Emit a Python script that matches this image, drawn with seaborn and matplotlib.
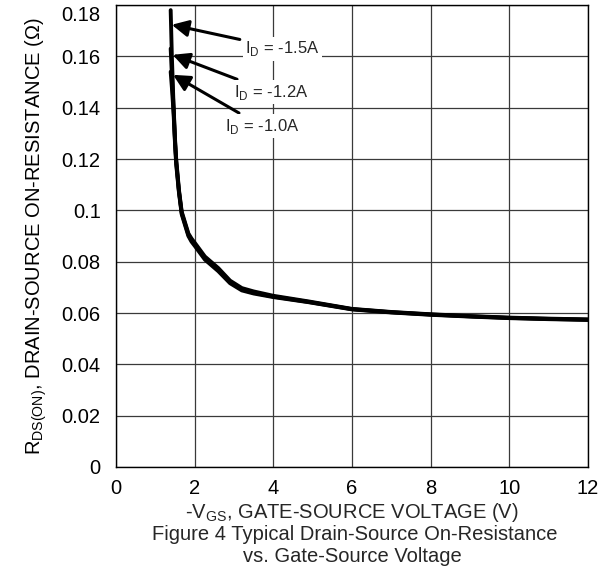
import matplotlib
matplotlib.use("Agg")
import matplotlib.pyplot as plt
import matplotlib.transforms as mtransforms
import seaborn as sns
import pandas as pd

# ---- data ----
vgs = [1.39, 1.42, 1.46, 1.50, 1.53, 1.60, 1.67, 1.76, 1.84, 1.92, 2.01, 2.26, 2.60,
       2.90, 3.20, 3.50, 4.00, 4.90, 6.00, 7.00, 8.00, 9.00, 10.0, 11.0, 12.0]
rds_15 = [0.178, 0.160, 0.142, 0.128, 0.120, 0.108, 0.0995, 0.0950, 0.0910, 0.0890, 0.0872,
          0.0820, 0.0775, 0.0726, 0.0697, 0.0684, 0.0667, 0.0645, 0.0616, 0.0604, 0.0595,
          0.0588, 0.0582, 0.0578, 0.0575]
rds_12 = [0.163, 0.153, 0.141, 0.127, 0.119, 0.1075, 0.0990, 0.0945, 0.0905, 0.0884, 0.0866,
          0.0814, 0.0769, 0.0721, 0.0692, 0.0679, 0.0664, 0.0643, 0.0615, 0.0603, 0.0594,
          0.0587, 0.0581, 0.0577, 0.0574]
rds_10 = [0.154, 0.148, 0.139, 0.126, 0.118, 0.1070, 0.0985, 0.0940, 0.0900, 0.0878, 0.0860,
          0.0808, 0.0763, 0.0716, 0.0688, 0.0676, 0.0662, 0.0642, 0.0614, 0.0602, 0.0593,
          0.0586, 0.0580, 0.0576, 0.0573]
series_labels = ["I$_\\mathregular{D}$ = -1.5A", "I$_\\mathregular{D}$ = -1.2A", "I$_\\mathregular{D}$ = -1.0A"]
x_ticks = [0, 2, 4, 6, 8, 10, 12]
y_ticks = [0, 0.02, 0.04, 0.06, 0.08, 0.1, 0.12, 0.14, 0.16, 0.18]
y_tick_labels = ["0", "0.02", "0.04", "0.06", "0.08", "0.1", "0.12", "0.14", "0.16", "0.18"]

df = pd.concat([
    pd.DataFrame({"vgs": vgs, "rds": rds_15, "id": "-1.5"}),
    pd.DataFrame({"vgs": vgs, "rds": rds_12, "id": "-1.2"}),
    pd.DataFrame({"vgs": vgs, "rds": rds_10, "id": "-1.0"}),
])

sns.set_theme(style="whitegrid")
plt.rcParams["font.family"] = ["Liberation Sans", "DejaVu Sans"]
plt.rcParams["mathtext.fontset"] = "custom"
plt.rcParams["mathtext.rm"] = "Liberation Sans"

FS = 14.5

fig = plt.figure(figsize=(6.1, 5.78), dpi=100)
ax = fig.add_axes([116 / 610, 1 - 467 / 578, 472 / 610, 462 / 578])

sns.lineplot(data=df, x="vgs", y="rds", hue="id", units="id", estimator=None,
             palette=["black", "black", "black"], linewidth=2.8, legend=False, ax=ax,
             sort=False)

ax.set_xlim(0, 12)
ax.set_ylim(0, 0.18)
ax.set_xticks(x_ticks)
ax.set_xticklabels([str(t) for t in x_ticks])
ax.set_yticks(y_ticks)
ax.set_yticklabels(y_tick_labels)
ax.tick_params(axis="both", length=0, labelsize=FS, colors="black")
ax.tick_params(axis="x", pad=9)
ax.tick_params(axis="y", pad=11)
ax.set_facecolor("white")
ax.grid(True, color="#3a3a3a", linewidth=0.9)
for s in ax.spines.values():
    s.set_color("black")
    s.set_linewidth(1.0)

# top y tick label sits a little lower in the reference (kept inside the figure)
top_lab = ax.get_yticklabels()[-1]
top_lab.set_transform(top_lab.get_transform() +
                      mtransforms.ScaledTranslation(0, -8 / 100, fig.dpi_scale_trans))

ax.set_xlabel("")
ax.set_ylabel("R$_\\mathregular{DS(ON)}$, DRAIN-SOURCE ON-RESISTANCE (Ω)", fontsize=FS,
              color="black", labelpad=9)

fig.text(352 / 610, 1 - 513 / 578, "-V$_\\mathregular{GS}$, GATE-SOURCE VOLTAGE (V)",
         ha="center", va="center", fontsize=FS)
fig.text(355 / 610, 1 - 535 / 578, "Figure 4 Typical Drain-Source On-Resistance",
         ha="center", va="center", fontsize=FS)
fig.text(352 / 610, 1 - 556 / 578, "vs. Gate-Source Voltage",
         ha="center", va="center", fontsize=FS)

heads = [(1.417, 0.1723), (1.44, 0.1606), (1.45, 0.1528)]
texts = [(3.28, 0.1630), (3.0, 0.1460), (2.77, 0.1327)]
for lab, xy, xt in zip(series_labels, heads, texts):
    ax.annotate(lab, xy=xy, xytext=xt, ha="left", va="center", fontsize=12,
                bbox=dict(boxstyle="square,pad=0.15", fc="white", ec="none"),
                arrowprops=dict(arrowstyle="-|>", color="black", lw=2.2,
                                mutation_scale=25, shrinkA=2, shrinkB=0))

fig.savefig("out.png", dpi=100)
